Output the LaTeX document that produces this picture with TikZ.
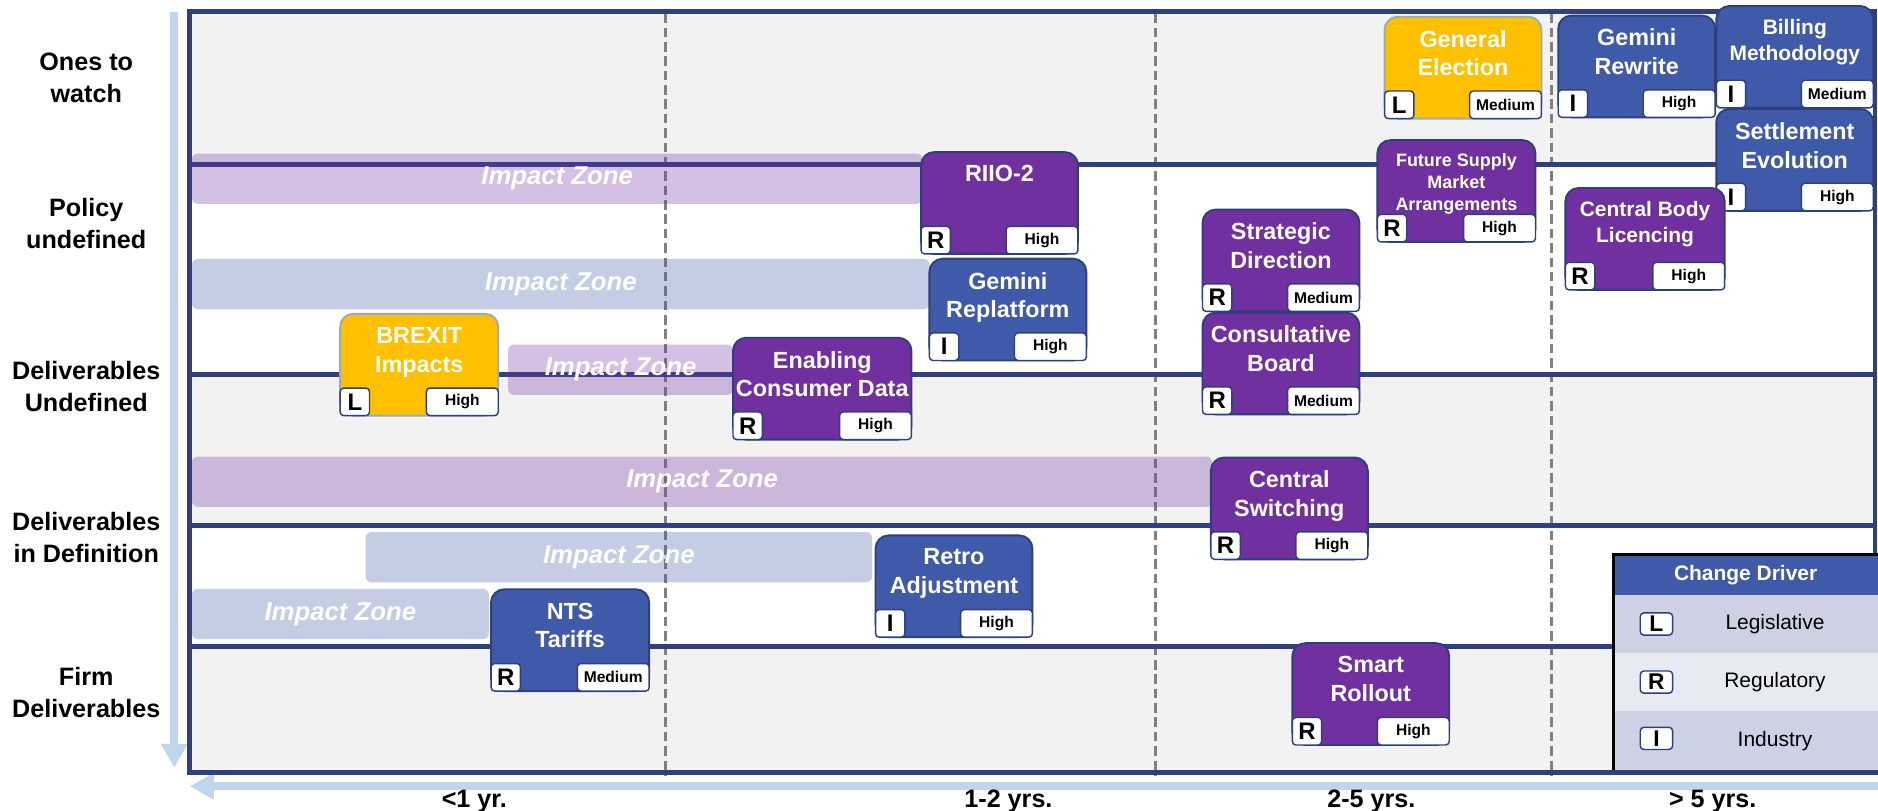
\documentclass[tikz,border=0pt]{standalone}
\usepackage{fontspec}
\setmainfont{Liberation Sans}
\usetikzlibrary{arrows.meta}

\definecolor{frameblue}{RGB}{46,64,128}
\definecolor{boxline}{RGB}{47,63,125}
\definecolor{drvpurple}{RGB}{112,48,160}
\definecolor{drvblue}{RGB}{63,90,168}
\definecolor{drvgold}{RGB}{255,192,0}
\definecolor{goldline}{RGB}{150,170,192}
\definecolor{bandgray}{RGB}{242,242,242}
\definecolor{axisblue}{RGB}{191,214,236}
\definecolor{dashgray}{RGB}{128,128,128}
\definecolor{legenddark}{RGB}{205,209,228}
\definecolor{legendlight}{RGB}{232,234,242}

\newcommand{\driverbox}[9]{%
\node[item, #5, minimum width=#4pt] (#1) at (#2,#3) {};
\node[item title, #6] (#1 title) at ([yshift=-11pt]#1.north) {#7};
\node[letter tag] (#1 letter) at (#1.south west) {#8};
\node[level tag] (#1 level) at (#1.south east) {#9};
}

\begin{document}
\begin{tikzpicture}
[x=1pt, y=-1pt,
light band/.style={fill=bandgray},
frame line/.style={draw=frameblue, line width=4pt},
year line/.style={draw=dashgray, line width=2.5pt, dash pattern=on 8pt off 4pt},
axis arrow/.style={draw=axisblue, line width=7pt, -{Triangle[width=21pt,length=20pt]}},
row label/.style={align=center, inner sep=0pt, font=\fontsize{21}{26.5}\selectfont\bfseries},
year label/.style={anchor=base, inner sep=0pt, font=\fontsize{21}{21}\selectfont\bfseries},
zone/.style={anchor=north west, minimum height=42pt, rounded corners=5pt, inner sep=0pt, fill opacity=0.3, text opacity=1, text=white, font=\fontsize{21.5}{21.5}\selectfont\bfseries\itshape},
purple zone/.style={zone, fill=drvpurple},
blue zone/.style={zone, fill=drvblue},
item/.style={draw=boxline, line width=1.6pt, rounded corners=11pt, anchor=north west, minimum height=85pt, inner sep=0pt, outer sep=0pt},
purple item/.style={fill=drvpurple},
blue item/.style={fill=drvblue},
gold item/.style={fill=drvgold, draw=goldline},
item title/.style={anchor=north, align=center, text=white, inner sep=0pt, font=\fontsize{19.5}{24}\selectfont\bfseries},
mid title/.style={font=\fontsize{17.5}{22}\selectfont\bfseries},
small title/.style={font=\fontsize{15}{18.5}\selectfont\bfseries},
letter tag/.style={draw=boxline, fill=white, line width=1.2pt, rounded corners=3pt, anchor=south west, minimum width=24.5pt, minimum height=23pt, inner sep=0pt, outer sep=0pt, font=\fontsize{20}{20}\selectfont\bfseries},
level tag/.style={draw=boxline, fill=white, line width=1.2pt, rounded corners=3pt, anchor=south east, minimum width=60pt, minimum height=23pt, inner sep=0pt, outer sep=0pt, font=\fontsize{13}{13}\selectfont\bfseries},
legend head/.style={anchor=north west, fill=drvblue, minimum width=221pt, minimum height=34pt, inner sep=0pt, outer sep=0pt, text=white, font=\fontsize{17.5}{17.5}\selectfont\bfseries},
legend row/.style={anchor=north west, minimum width=221pt, inner sep=0pt, outer sep=0pt},
legend tag/.style={draw=boxline, fill=white, line width=1.2pt, rounded corners=3pt, minimum width=27pt, minimum height=18.5pt, inner sep=0pt, font=\fontsize{19}{19}\selectfont\bfseries},
legend text/.style={inner sep=0pt, font=\fontsize{17.5}{17.5}\selectfont},
legend border/.style={draw=black, line width=2.5pt}]
\useasboundingbox (0,0) rectangle (1568,677);
\fill[white] (0,0) rectangle (1568,677);
\draw[axis arrow] (145.5,10) -- (145.5,641);
\draw[axis arrow] (1568,656.5) -- (158.5,656.5);
\fill[light band] (158,9.5) rectangle (1565.5,137.5);
\fill[light band] (158,312.5) rectangle (1565.5,439);
\fill[light band] (158,540) rectangle (1565.5,645);
\draw[year line] (556,11) -- (556,648);
\draw[year line] (965,11) -- (965,648);
\draw[year line] (1295,11) -- (1295,648);
\draw[frame line] (158,137.5) -- (1565.5,137.5);
\draw[frame line] (158,312.5) -- (1565.5,312.5);
\draw[frame line] (158,439) -- (1565.5,439);
\draw[frame line] (158,540) -- (1565.5,540);
\draw[frame line] (158,9.5) rectangle (1565.5,645);
\node[row label] (watch) at (72,65) {Ones to\\watch};
\node[row label] (policy) at (72,186.5) {Policy\\undefined};
\node[row label] (undefined) at (72,323) {Deliverables\\Undefined};
\node[row label] (definition) at (72,448.5) {Deliverables\\in Definition};
\node[row label] (firm) at (72,578) {Firm\\Deliverables};
\node[year label] (year one) at (396,674) {<1 yr.};
\node[year label] (year two) at (842,674) {1-2 yrs.};
\node[year label] (year five) at (1145,674) {2-5 yrs.};
\node[year label] (year more) at (1430,674) {> 5 yrs.};
\node[purple zone, minimum width=610pt] (zone riio) at (160,128) {Impact Zone};
\node[blue zone, minimum width=616pt] (zone replatform) at (160,216) {Impact Zone};
\node[purple zone, minimum width=188pt] (zone consumer) at (424,287.5) {Impact Zone};
\node[purple zone, minimum width=852pt] (zone switching) at (160,381) {Impact Zone};
\node[blue zone, minimum width=423pt] (zone retro) at (305,444) {Impact Zone};
\node[blue zone, minimum width=248pt] (zone nts) at (160,491.5) {Impact Zone};
\driverbox{brexit}{284}{262}{132}{gold item}{}{BREXIT\\Impacts}{L}{High}
\driverbox{consumer}{612}{282}{149}{purple item}{}{Enabling\\Consumer Data}{R}{High}
\driverbox{riio}{769}{127}{131}{purple item}{}{RIIO-2}{R}{High}
\driverbox{replatform}{776}{216}{131}{blue item}{}{Gemini\\Replatform}{I}{High}
\driverbox{strategic}{1004}{175}{131}{purple item}{}{Strategic\\Direction}{R}{Medium}
\driverbox{consultative}{1004}{261}{131}{purple item}{}{Consultative\\Board}{R}{Medium}
\driverbox{switching}{1011}{382}{131}{purple item}{}{Central\\Switching}{R}{High}
\driverbox{retro}{731}{447}{131}{blue item}{}{Retro\\Adjustment}{I}{High}
\driverbox{nts}{410}{492}{132}{blue item}{}{NTS\\Tariffs}{R}{Medium}
\driverbox{smart}{1079}{537}{131}{purple item}{}{Smart\\Rollout}{R}{High}
\driverbox{election}{1156}{14}{131}{gold item}{}{General\\Election}{L}{Medium}
\driverbox{supply}{1150}{117}{132}{purple item}{small title}{Future Supply\\Market\\Arrangements}{R}{High}
\driverbox{rewrite}{1301}{13}{131}{blue item}{}{Gemini\\Rewrite}{I}{High}
\driverbox{billing}{1433}{5}{131}{blue item}{mid title}{Billing\\Methodology}{I}{Medium}
\driverbox{settlement}{1433}{91}{131}{blue item}{}{Settlement\\Evolution}{I}{High}
\driverbox{licencing}{1307}{157}{133}{purple item}{mid title}{Central Body\\Licencing}{R}{High}
\node[legend head] (legend) at (1347,463) {Change Driver};
\node[legend row, fill=legenddark, minimum height=48pt] (row l) at (legend.south west) {};
\node[legend row, fill=legendlight, minimum height=49pt] (row r) at (row l.south west) {};
\node[legend row, fill=legenddark, minimum height=49pt] (row i) at (row r.south west) {};
\node[legend tag] (tag l) at ([xshift=36pt]row l.west) {L};
\node[legend tag] (tag r) at ([xshift=36pt]row r.west) {R};
\node[legend tag] (tag i) at ([xshift=36pt,yshift=2pt]row i.west) {I};
\node[legend text] (text l) at ([xshift=135pt]row l.west) {Legislative};
\node[legend text] (text r) at ([xshift=135pt]row r.west) {Regulatory};
\node[legend text] (text i) at ([xshift=135pt]row i.west) {Industry};
\draw[legend border] (row i.south west) |- (legend.north east);
\draw[frame line] (158,645) -- (1568,645);
\end{tikzpicture}
\end{document}
